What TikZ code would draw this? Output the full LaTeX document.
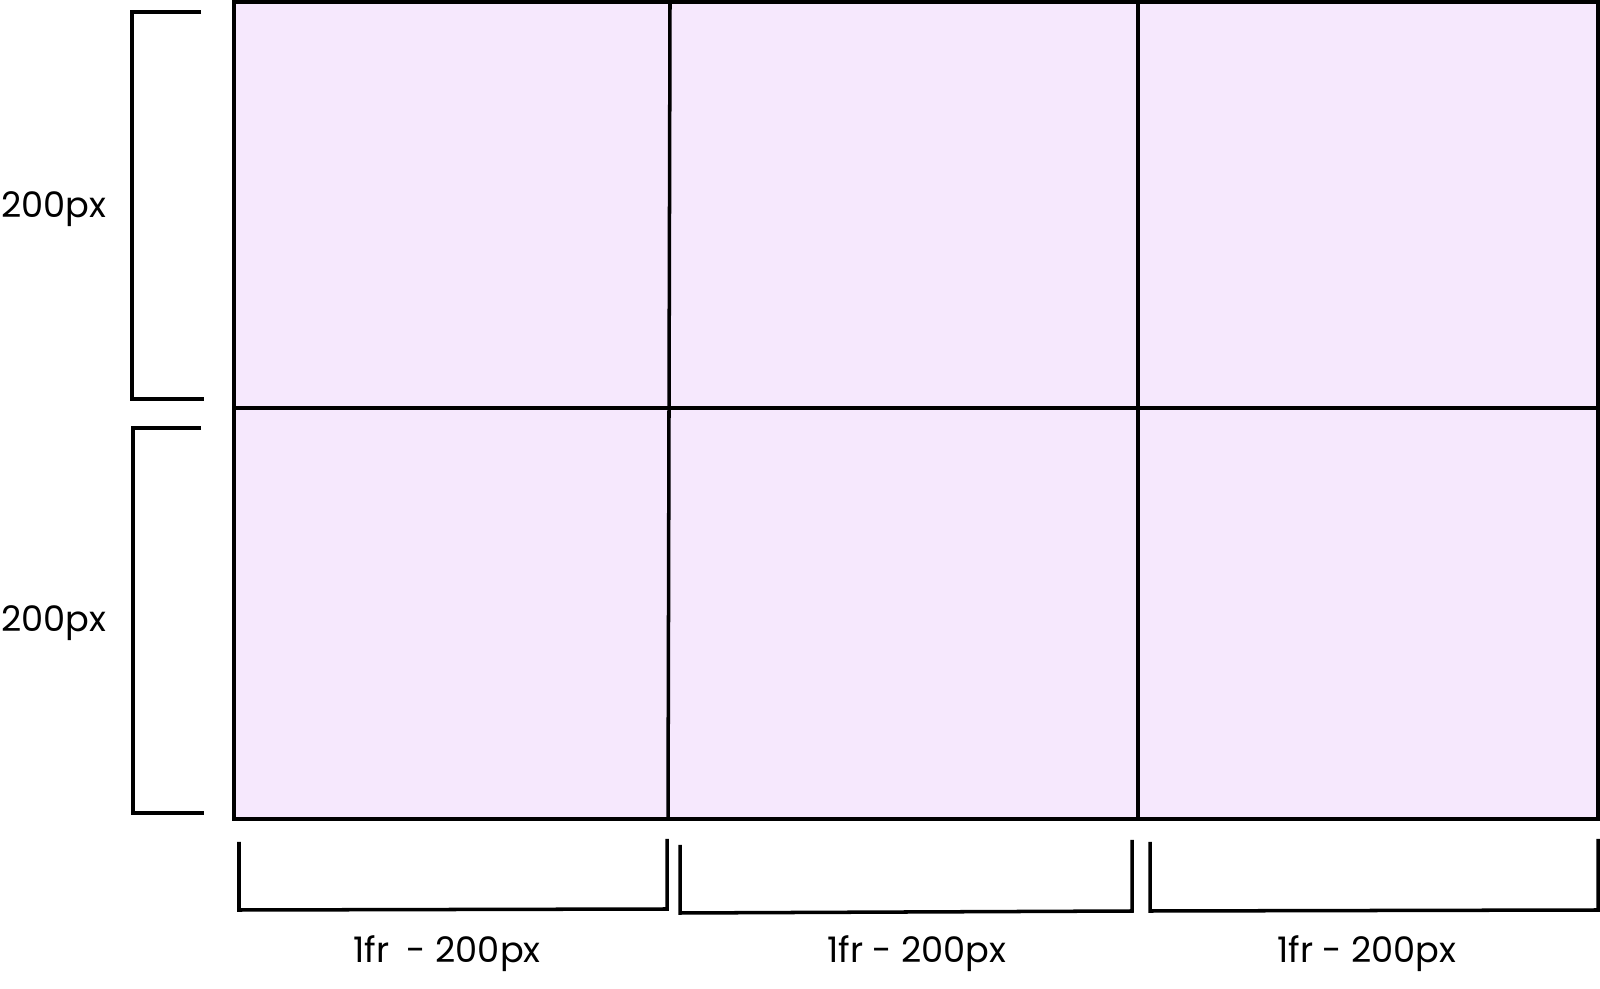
\documentclass[tikz,border=0pt]{standalone}
\usepackage{fontspec}
\setmainfont{Poppins}
\definecolor{cellfill}{RGB}{246,232,253}
\tikzset{
  gridline/.style={line width=1pt, black},
  bracket/.style={line width=1pt, black},
  sizelabel/.style={font=\fontsize{10}{12}\selectfont, inner sep=0pt}
}
\begin{document}
\begin{tikzpicture}[x=0.01cm, y=-0.01cm]
  \useasboundingbox (0,0) rectangle (1600,989);
  % grid cells
  \fill[cellfill] (234,2) rectangle (1598,819);
  \draw[gridline] (234,2) rectangle (1598,819);
  \draw[gridline] (234,408) -- (1598,408); %row
  \draw[gridline] (670,2) -- (668,819); %col
  \draw[gridline] (1138,2) -- (1138,819); %col
  % row brackets
  \draw[bracket] (201,12) -- (132,12) -- (132,399) -- (204,399);
  \draw[bracket] (201,428) -- (133,428) -- (133,813) -- (204,813);
  \node[sizelabel] (row1) at (54,209) {200px};
  \node[sizelabel] (row2) at (54,623) {200px};
  % column brackets
  \draw[bracket] (239,842) -- (239,910) -- (667,909) -- (667,839);
  \draw[bracket] (680,845) -- (680,913) -- (1132,911) -- (1132,840);
  \draw[bracket] (1150,842) -- (1150,911) -- (1598,910) -- (1598,839);
  \node[sizelabel] (col1) at (447,954) {1fr\enspace- 200px};
  \node[sizelabel] (col2) at (917,954) {1fr - 200px};
  \node[sizelabel] (col3) at (1367,954) {1fr - 200px};
\end{tikzpicture}
\end{document}
